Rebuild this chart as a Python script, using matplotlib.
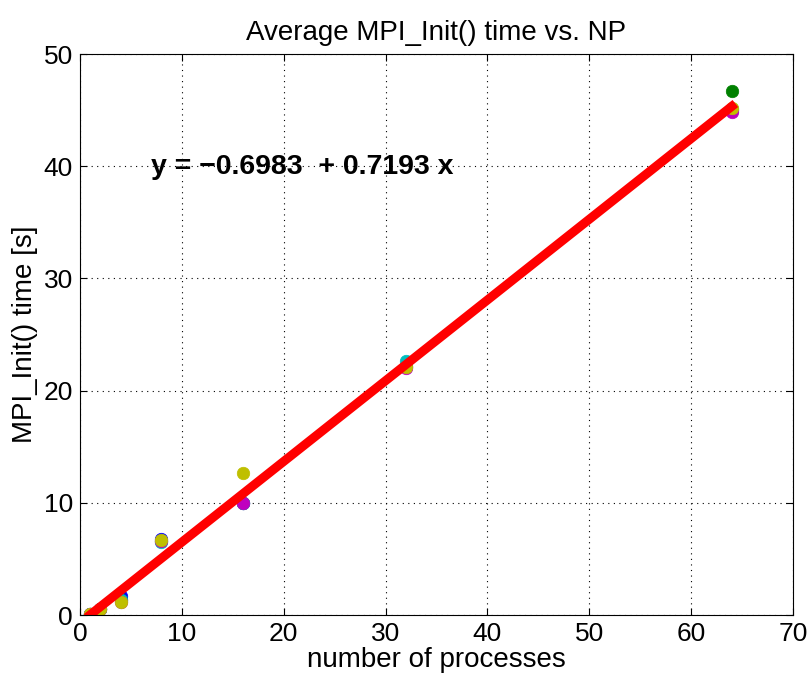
import numpy as np
import matplotlib
matplotlib.use('Agg')
import matplotlib.pyplot as plt

plt.rcParams['font.family'] = ['Liberation Sans', 'DejaVu Sans']

# number of processes
np_vals = [1, 2, 4, 8, 16, 32, 64]

# average MPI_Init() time per run (s)
run_b = [0.1, 0.5, 1.7, 6.8, 10.0, 22.1, 45.0]
run_g = [0.1, 0.5, 1.3, 6.6, 10.0, 22.2, 46.7]
run_c = [0.1, 0.5, 1.3, 6.5, 10.0, 22.6, 45.1]
run_m = [0.1, 0.5, 1.2, 6.6, 10.0, 22.0, 44.8]
run_y = [0.1, 0.5, 1.2, 6.7, 12.7, 22.1, 45.2]

runs = [run_b, run_g, run_c, run_m, run_y]
colors = ['#0000ff', '#008000', '#00bfbf', '#bf00bf', '#bfbf00']

# linear fit coefficients shown in the chart
intercept = -0.6983
slope = 0.7193

fig = plt.figure(figsize=(8.12, 6.82), dpi=100)
ax = fig.add_axes([0.0985, 0.0982, 0.878, 0.8226])

for r, c in zip(runs, colors):
    ax.plot(np_vals, r, 'o', color=c, markersize=9, markeredgecolor=c,
            markeredgewidth=0.5)

xf = np.array([np_vals[0], np_vals[-1]])
ax.plot(xf, intercept + slope * xf, '-', color='red', linewidth=6.5)

ax.text(7.0, 39.9, 'y = \u22120.6983  + 0.7193 x', fontsize=20.5, fontweight='bold',
        va='center', ha='left')

ax.set_xlim(0, 70)
ax.set_ylim(0, 50)
ax.set_xticks(range(0, 71, 10))
ax.set_yticks(range(0, 51, 10))
ax.grid(True, linestyle=(0, (1, 4)), color='black', linewidth=0.8)
ax.tick_params(direction='in', labelsize=19, top=True, right=True, length=5, pad=5)
ax.set_xlabel('number of processes', fontsize=20, labelpad=1)
ax.set_ylabel('MPI_Init() time [s]', fontsize=20, labelpad=4)
ax.set_title('Average MPI_Init() time vs. NP', fontsize=20, pad=10)

fig.savefig('out.png', dpi=100)
